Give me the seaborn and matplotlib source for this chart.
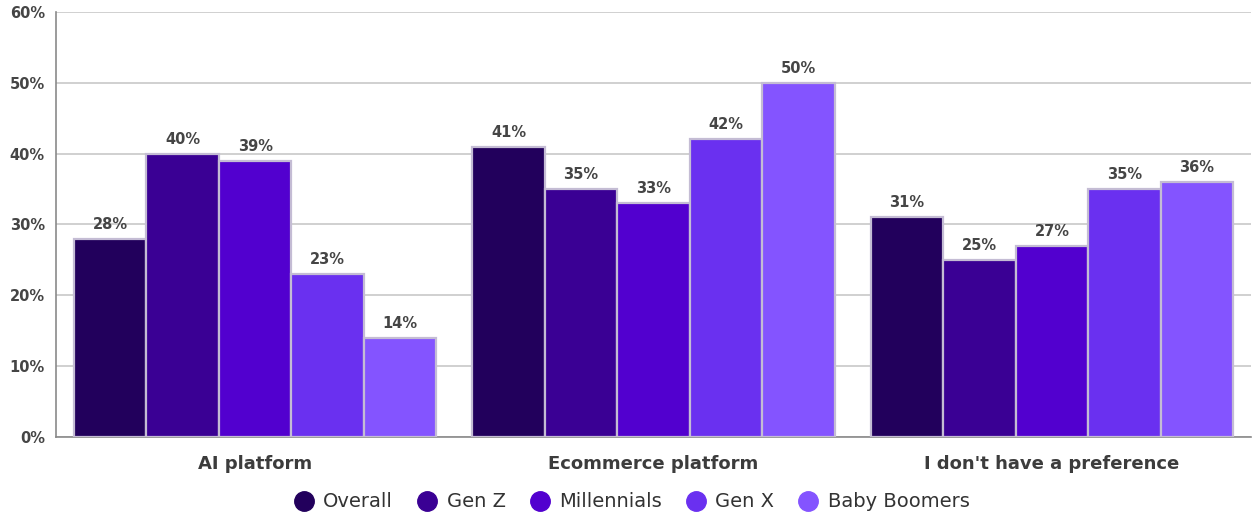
import matplotlib
matplotlib.use("Agg")
import matplotlib.pyplot as plt
import seaborn as sns
import pandas as pd
from matplotlib.lines import Line2D

categories = ["AI platform", "Ecommerce platform", "I don't have a preference"]
groups = ["Overall", "Gen Z", "Millennials", "Gen X", "Baby Boomers"]
overall = [28, 41, 31]
gen_z = [40, 35, 25]
millennials = [39, 33, 27]
gen_x = [23, 42, 35]
baby_boomers = [14, 50, 36]
y_ticks = [0, 10, 20, 30, 40, 50, 60]

colors = ["#22005c", "#3a0094", "#5200cf", "#6a30f0", "#8454ff"]

series = [overall, gen_z, millennials, gen_x, baby_boomers]
rows = []
for g, vals in zip(groups, series):
    for c, v in zip(categories, vals):
        rows.append({"category": c, "group": g, "value": v})
df = pd.DataFrame(rows)

sns.set_theme(style="white")
plt.rcParams["font.family"] = ["DejaVu Sans"]

fig = plt.figure(figsize=(12.54, 5.16), dpi=100)
ax = fig.add_axes([0.0447, 0.153, 0.953, 0.824])

sns.barplot(data=df, x="category", y="value", hue="group", order=categories,
            hue_order=groups, palette=colors, saturation=1, width=0.91, ax=ax,
            edgecolor="#c4bcd4", linewidth=1.6, legend=False, zorder=3)

for container in ax.containers:
    ax.bar_label(container, labels=[f"{int(round(b.get_height()))}%" for b in container],
                 padding=5, fontsize=10.5, fontweight="bold", color="#454545")

ax.set_ylim(0, 60)
ax.set_xlim(-0.5, 2.5)
ax.set_yticks(y_ticks)
ax.set_yticklabels([f"{t}%" for t in y_ticks], fontsize=10.5, fontweight="bold", color="#454545")
ax.set_xticks(range(len(categories)))
ax.set_xticklabels(categories, fontsize=13, fontweight="bold", color="#3c3c3c")
ax.tick_params(axis="x", length=0, pad=13)
ax.tick_params(axis="y", length=0, pad=8)
ax.set_xlabel("")
ax.set_ylabel("")
ax.grid(axis="y", color="#c8c8c8", linewidth=1.2, zorder=0)
ax.set_axisbelow(True)
for side in ["top", "right"]:
    ax.spines[side].set_visible(False)
ax.spines["left"].set_color("#8a8a8a")
ax.spines["bottom"].set_color("#8a8a8a")
ax.spines["left"].set_linewidth(1.2)
ax.spines["bottom"].set_linewidth(1.2)

handles = [Line2D([0], [0], marker="o", linestyle="", markersize=14,
                  markerfacecolor=c, markeredgecolor=c) for c in colors]
fig.legend(handles, groups, loc="lower center", bbox_to_anchor=(0.5, -0.025),
           ncol=5, frameon=False, fontsize=14, handletextpad=0.0,
           columnspacing=0.75, labelcolor="#333333")

fig.savefig("out.png", dpi=100)
